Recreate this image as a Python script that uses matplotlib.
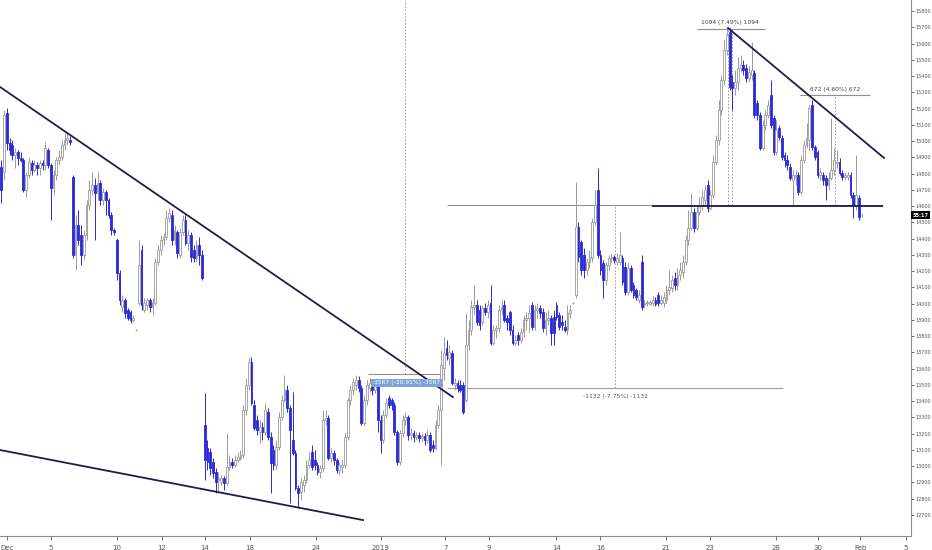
import matplotlib
matplotlib.use("Agg")
import matplotlib.pyplot as plt
import matplotlib.transforms as mtransforms
import numpy as np

# candle data (one candle per slot, 8 slots per trading day)
o = [14840, 14810, 15173, 14988, 14976, 14914, 14933, 14896,
     14883, 14699, 14791, 14865, 14822, 14853, 14834, 14865,
     14853, 14945, 14853, 14711, 14791, 14883, 14902, 14976,
     15006, 15006, 14779, 14299, 14483, 14422, 14299, 14422,
     14606, 14699, 14730, 14680, 14742, 14637, 14686, 14637,
     14545, 14453, 14391, 14188, 13979, 14022, 13960, 13948,
     13899, 13837, 14003, 14329, 13960, 13991, 14022, 13979,
     14003, 14256, 14329, 14391, 14410, 14526, 14545, 14391,
     14440, 14299, 14440, 14514, 14373, 14422, 14329, 14280, 14360, 14299,
     13253, 13111, 13086, 13025, 12963, 12914, 12902, 12926,
     12896, 12994, 13025, 13006, 13037, 13049, 13068, 13345,
     13499, 13640, 13376, 13283, 13209, 13240, 13209, 13333,
     13179, 13099, 13006, 13117, 13302, 13406, 13468, 13357,
     13160, 13080, 12865, 12840, 12883, 12914, 13006, 13086,
     13037, 13006, 12963, 12988, 13283, 13296, 13049, 13080,
     13037, 12976, 12994, 13006, 13179, 13406, 13468, 13499,
     13529, 13480, 13265, 13406, 13480, 13511, 13468, 13499,
     13283, 13160, 13314, 13419, 13406, 13376, 13209, 13025,
     13203, 13283, 13302, 13191, 13203, 13179, 13191, 13173,
     13185, 13160, 13191, 13129, 13111, 13253, 13345, 13603,
     13726, 13665, 13696, 13499, 13511, 13499, 13499, 13406,
     13745, 13837, 13979, 13991, 13960, 13886, 13973, 13948,
     14003, 13757, 13837, 13849, 13960, 13991, 13911, 13948,
     13837, 13757, 13806, 13776, 13825, 13899, 13911, 13991,
     13856, 13960, 13973, 13948, 13849, 13899, 13911, 13917,
     13991, 13929, 13886, 13856, 13837, 13942, 14003, 14053,
     14471, 14379, 14299, 14206, 14256, 14280, 14502, 14699,
     14299, 14249, 14145, 14237, 14280, 14286, 14256, 14256,
     14280, 14225, 14071, 14219, 14114, 14083, 14022, 14256,
     13991, 14003, 13997, 14003, 14022, 14053, 14003, 14003,
     14022, 14083, 14096, 14157, 14114, 14176, 14194, 14256,
     14391, 14465, 14563, 14465, 14563, 14606, 14637, 14730,
     14588, 14668, 14871, 15006, 15191, 15376, 15560, 15671,
     15363, 15326, 15363, 15450, 15468, 15450, 15388, 15406,
     15419, 15234, 15160, 14957, 15099, 15160, 15283, 15142,
     14933, 15080, 15019, 14914, 14883, 14840, 14760, 14773,
     14791, 14686, 14883, 14976, 15006, 15222, 14963, 14933,
     14791, 14791, 14773, 14730, 14773, 14822, 14865, 14871,
     14803, 14779, 14779, 14791, 14668, 14606, 14650, 14545]
h = [14883, 15191, 15203, 15019, 15006, 14957, 14945, 14933,
     14896, 14810, 14896, 14883, 14883, 14871, 14883, 14883,
     14994, 14957, 14865, 14822, 14902, 14945, 15006, 15050,
     15056, 15031, 14791, 14545, 14576, 14483, 14453, 14637,
     14760, 14810, 14773, 14810, 14760, 14711, 14699, 14650,
     14563, 14465, 14403, 14206, 14053, 14034, 13973, 13960,
     13929, 13843, 14391, 14360, 14034, 14034, 14034, 14034,
     14280, 14360, 14422, 14434, 14576, 14588, 14576, 14483,
     14453, 14465, 14545, 14545, 14453, 14440, 14360, 14391, 14410, 14329,
     13449, 13160, 13111, 13049, 12988, 12963, 12945, 12939,
     13203, 13068, 13049, 13068, 13086, 13099, 13376, 13542,
     13671, 13671, 13406, 13314, 13283, 13271, 13388, 13357,
     13209, 13129, 13160, 13333, 13437, 13560, 13499, 13376,
     13456, 13099, 12883, 12926, 12945, 13037, 13086, 13129,
     13099, 13025, 13006, 13345, 13345, 13314, 13111, 13099,
     13049, 13025, 13037, 13203, 13419, 13499, 13542, 13560,
     13554, 13499, 13437, 13529, 13542, 13529, 13517, 13517,
     13314, 13345, 13419, 13437, 13419, 13394, 13222, 13222,
     13314, 13333, 13314, 13234, 13222, 13209, 13209, 13203,
     13203, 13222, 13209, 13160, 13283, 13376, 13714, 13794,
     13776, 13745, 13714, 13542, 13529, 13529, 13517, 13942,
     13899, 14022, 14114, 14022, 13991, 13991, 14003, 14022,
     14114, 13868, 13868, 13991, 14022, 14022, 13929, 13960,
     13868, 13806, 13825, 13849, 13929, 13948, 13991, 14009,
     13991, 14003, 13991, 13973, 13948, 13960, 13929, 13960,
     14009, 13948, 13929, 13899, 13991, 13991, 14009, 14748,
     14502, 14391, 14342, 14280, 14329, 14526, 14699, 14834,
     14329, 14268, 14256, 14299, 14305, 14299, 14311, 14440,
     14299, 14256, 14256, 14237, 14133, 14096, 14083, 14299,
     14022, 14022, 14022, 14046, 14040, 14071, 14053, 14071,
     14114, 14206, 14176, 14194, 14219, 14256, 14299, 14422,
     14576, 14680, 14588, 14606, 14656, 14699, 14730, 14760,
     14699, 14914, 15037, 15253, 15406, 15622, 15696, 15696,
     15406, 15437, 15517, 15530, 15499, 15474, 15462, 15610,
     15437, 15253, 15179, 15130, 15191, 15253, 15376, 15160,
     15130, 15099, 15037, 14933, 14914, 14865, 14822, 14822,
     14810, 14914, 15006, 15111, 15222, 15253, 14976, 14945,
     14834, 14810, 14791, 14810, 15142, 14957, 14945, 14896,
     14822, 14810, 14810, 14810, 14686, 14914, 14668, 14557]
l = [14619, 14760, 14945, 14914, 14883, 14834, 14853, 14871,
     14686, 14656, 14773, 14791, 14810, 14791, 14791, 14822,
     14822, 14834, 14514, 14668, 14760, 14853, 14883, 14945,
     14976, 14976, 14280, 14206, 14360, 14237, 14268, 14391,
     14576, 14668, 14391, 14637, 14606, 14606, 14545, 14526,
     14422, 14422, 14145, 13991, 13948, 13911, 13899, 13880,
     13886, 13831, 13991, 13960, 13948, 13960, 13948, 13929,
     13991, 14237, 14299, 14360, 14391, 14502, 14360, 14360,
     14280, 14280, 14422, 14360, 14329, 14256, 14256, 14256, 14237, 14145,
     12914, 12976, 12945, 12926, 12834, 12834, 12883, 12853,
     12883, 12976, 12988, 12994, 13025, 13037, 13049, 13314,
     13468, 13376, 13222, 13191, 13142, 13160, 13191, 13160,
     12834, 12976, 12976, 13099, 13283, 13394, 13333, 12773,
     13068, 12853, 12742, 12791, 12840, 12896, 12988, 12976,
     12976, 12945, 12926, 12963, 13253, 13037, 13025, 13006,
     12957, 12945, 12957, 12988, 13160, 13376, 13437, 13468,
     13456, 13253, 13246, 13376, 13456, 13437, 13449, 13209,
     13080, 13142, 13296, 13357, 13345, 13191, 13006, 13006,
     13179, 13253, 13160, 13160, 13148, 13160, 13148, 13148,
     13129, 13142, 13086, 13086, 13099, 13234, 13006, 13529,
     13653, 13622, 13499, 13468, 13456, 13456, 13320, 13394,
     13714, 13806, 13929, 13868, 13837, 13868, 13929, 13911,
     13745, 13745, 13788, 13825, 13929, 13886, 13837, 13806,
     13745, 13745, 13745, 13757, 13794, 13837, 13825, 13837,
     13837, 13911, 13911, 13825, 13806, 13868, 13745, 13745,
     13899, 13837, 13837, 13825, 13806, 13911, 13997, 14034,
     14256, 14176, 14157, 14176, 14219, 14256, 14483, 14280,
     14176, 14034, 14114, 14206, 14256, 14249, 14237, 14237,
     14114, 14053, 14053, 14071, 14034, 14022, 14003, 13960,
     13973, 13985, 13991, 13985, 13985, 13985, 13991, 13979,
     14003, 14053, 14071, 14083, 14083, 14145, 14157, 14237,
     14360, 14453, 14440, 14453, 14545, 14576, 14606, 14563,
     14576, 14650, 14853, 14976, 15160, 15345, 15530, 15314,
     15191, 15283, 15314, 15425, 15406, 15363, 15363, 15376,
     15142, 15130, 14945, 14945, 15068, 15142, 15080, 14914,
     14914, 15006, 14883, 14840, 14822, 14760, 14606, 14730,
     14668, 14668, 14865, 14957, 14945, 14945, 14883, 14773,
     14760, 14730, 14637, 14699, 14760, 14791, 14834, 14791,
     14760, 14760, 14760, 14650, 14526, 14576, 14514, 14533]
c = [14699, 15160, 14988, 14945, 14914, 14933, 14896, 14883,
     14699, 14791, 14871, 14822, 14853, 14834, 14865, 14853,
     14957, 14853, 14711, 14791, 14883, 14902, 14976, 15006,
     15019, 14994, 14299, 14483, 14391, 14299, 14422, 14606,
     14699, 14730, 14680, 14742, 14637, 14686, 14637, 14545,
     14453, 14440, 14188, 14022, 14022, 13942, 13911, 13899,
     13911, 13837, 14237, 13991, 14003, 14022, 13979, 14009,
     14256, 14329, 14391, 14410, 14526, 14557, 14391, 14453,
     14311, 14440, 14514, 14373, 14422, 14286, 14280, 14360, 14299, 14157,
     13037, 13025, 12988, 12957, 12902, 12926, 12926, 12896,
     12994, 13025, 13006, 13037, 13056, 13068, 13345, 13499,
     13640, 13388, 13234, 13222, 13240, 13209, 13345, 13179,
     13019, 13006, 13117, 13302, 13406, 13468, 13357, 13222,
     13080, 12865, 12834, 12902, 12914, 13006, 13037, 12994,
     13006, 12963, 12988, 13283, 13296, 13049, 13080, 13037,
     12976, 13006, 13006, 13179, 13406, 13468, 13517, 13529,
     13480, 13265, 13406, 13499, 13511, 13468, 13499, 13283,
     13160, 13314, 13388, 13376, 13376, 13209, 13025, 13203,
     13283, 13302, 13191, 13203, 13179, 13191, 13173, 13185,
     13160, 13191, 13099, 13111, 13253, 13345, 13622, 13696,
     13683, 13702, 13511, 13511, 13480, 13468, 13333, 13745,
     13837, 13979, 13991, 13886, 13868, 13973, 13948, 13991,
     13757, 13837, 13849, 13960, 13979, 13899, 13886, 13837,
     13757, 13776, 13776, 13825, 13899, 13911, 13942, 13856,
     13960, 13973, 13942, 13849, 13899, 13911, 13819, 13819,
     13917, 13856, 13868, 13837, 13942, 13960, 14003, 14471,
     14286, 14206, 14206, 14256, 14286, 14502, 14606, 14299,
     14206, 14145, 14237, 14280, 14286, 14268, 14280, 14299,
     14133, 14071, 14219, 14083, 14053, 14040, 14053, 13979,
     14003, 14009, 14009, 14022, 13997, 14003, 14022, 14040,
     14083, 14102, 14145, 14114, 14176, 14206, 14256, 14391,
     14465, 14563, 14465, 14563, 14606, 14656, 14699, 14588,
     14668, 14871, 15006, 15191, 15376, 15560, 15653, 15333,
     15326, 15363, 15450, 15468, 15437, 15388, 15425, 15437,
     15160, 15160, 14957, 15099, 15160, 15222, 15099, 14933,
     15068, 15025, 14902, 14883, 14853, 14773, 14791, 14791,
     14686, 14883, 14976, 15019, 15203, 14963, 14902, 14791,
     14810, 14760, 14730, 14773, 14822, 14883, 14871, 14803,
     14779, 14791, 14791, 14668, 14606, 14668, 14533, 14545]

# x axis labels at candle slots
tick_pos = [2, 18, 42, 58.5, 74, 90.5, 114.5, 138, 161.5, 177.5,
            202, 218, 242, 258, 282, 297, 312.5, 329]
tick_lab = ["Dec", "5", "10", "12", "14", "18", "24", "2019", "7", "9",
            "14", "16", "21", "23", "28", "30", "Feb", "5"]

# drawn trend lines: (x0, p0, x1, p1)
trends = [(-0.5, 15333, 164.3, 13425),
          (-0.5, 13099, 131.6, 12668),
          (264.4, 15696, 321.2, 14896)]

# price range measurements: label, x of label, price of bracket line, x range
measures = [("1094 (7.49%) 1094", 265.1, 15690, 253.1, 277.9),
            ("672 (4.60%) 672", 303.4, 15283, 290.6, 316.1)]
level = 14606      # horizontal level line
low_level = 13480  # lower level line

o, h, l, c = map(np.array, (o, h, l, c))
x = np.arange(len(c))
up = c >= o

blue = "#2a2ad6"
grey = "#9a9a9a"
navy = "#1d1d4f"

fig = plt.figure(figsize=(9.32, 5.5), dpi=100)
ax = fig.add_axes([0, 1 - 536 / 550, 911 / 932, 536 / 550])

ax.vlines(x, l, h, colors=np.where(up, grey, blue), linewidth=0.7, zorder=2)
ax.bar(x, np.maximum(np.abs(c - o), 1), bottom=np.minimum(o, c), width=0.66,
       color=np.where(up, "white", blue), edgecolor=np.where(up, grey, blue),
       linewidth=0.6, zorder=3)

# trend lines
for x0, p0, x1, p1 in trends:
    ax.plot([x0, x1], [p0, p1], color=navy, lw=1.3, zorder=4)

# level lines
ax.hlines(level, 162.2, 320.8, color="#8a8a8a", lw=0.7, zorder=1)
ax.hlines(level - 6, 236.8, 320.8, color=navy, lw=1.3, zorder=4)
ax.hlines(low_level, 162.2, 284.4, color="#a0a0a0", lw=0.8, zorder=1)
ax.vlines(223.3, low_level, level, color="#909090", lw=0.6, ls=(0, (2, 2)))
ax.text(223.3, low_level - 35, "-1132 (-7.75%) -1132", fontsize=4.3,
        color="#555555", ha="center", va="top")

for lab, xm, p, xa, xb in measures:
    ax.hlines(p, xa, xb, color="#909090", lw=0.8, zorder=1)
    ax.text(xm, p + 22, lab, fontsize=4.3, color="#444444", ha="center",
            va="bottom")
ax.vlines([264.4, 265.9], level, 15690, color="#909090", lw=0.6,
          ls=(0, (2, 2)), zorder=1)
ax.vlines(303.4, level, 15283, color="#909090", lw=0.6, ls=(0, (2, 2)),
          zorder=1)

# -3567 measure near the year start
ax.vlines(146.9, 13566, 15868, color="#909090", lw=0.6, ls=(0, (2, 2)),
          zorder=1)
ax.hlines(13566, 133.4, 160.7, color="#909090", lw=0.8, zorder=1)
ax.text(147.4, 13512, "-3567 (-20.91%) -3567", fontsize=4.3, color="white",
        ha="center", va="center", zorder=5,
        bbox=dict(boxstyle="square,pad=0.25", fc="#7fa3d8", ec="none"))

ax.set_xlim(-0.5, 331)
ax.set_ylim(12570, 15868)
ax.set_xticks(tick_pos)
ax.set_xticklabels(tick_lab)
ax.set_yticks(np.arange(12700, 15801, 100))
ax.yaxis.tick_right()
ax.tick_params(axis="x", labelsize=5, colors="#555555", length=3,
               width=0.6)
ax.tick_params(axis="y", labelsize=3.5, colors="#555555", length=2,
               width=0.6, pad=1)
for side in ("top", "left"):
    ax.spines[side].set_visible(False)
for side in ("right", "bottom"):
    ax.spines[side].set_color("#8c8c8c")
    ax.spines[side].set_linewidth(0.8)

# current price tag
trans = mtransforms.blended_transform_factory(ax.transAxes, ax.transData)
ax.text(1.002, 14545, "55:17", transform=trans, fontsize=3.6, color="white",
        ha="left", va="center", fontweight="bold",
        bbox=dict(boxstyle="square,pad=0.3", fc="black", ec="none"))

fig.savefig("out.png", dpi=100)
